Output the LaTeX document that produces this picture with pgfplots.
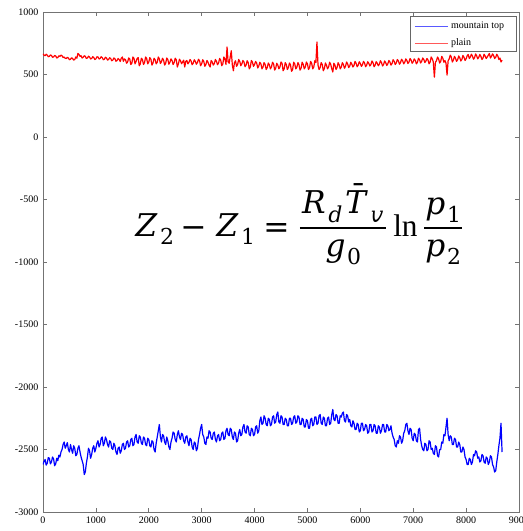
\documentclass[border=0pt]{standalone}
\usepackage{amsmath}
\usepackage{fontspec}
\usepackage{unicode-math}
\setmainfont{Liberation Serif}
\setmathfont{DejaVu Math TeX Gyre}
\usepackage{pgfplots}
\pgfplotsset{compat=1.18}

% mountain-top series
\pgfplotstableread{
x y
0 -2620
20 -2595
40 -2580
60 -2625
80 -2610
100 -2565
120 -2570
140 -2615
160 -2600
180 -2560
200 -2575
220 -2630
240 -2615
260 -2570
280 -2590
300 -2545
320 -2560
340 -2520
360 -2500
380 -2460
400 -2440
420 -2490
440 -2470
460 -2445
480 -2500
500 -2520
520 -2460
540 -2500
560 -2530
580 -2470
600 -2490
620 -2550
640 -2540
660 -2490
680 -2470
700 -2520
720 -2560
740 -2590
760 -2620
780 -2700
800 -2680
820 -2610
840 -2560
860 -2490
880 -2510
900 -2570
920 -2540
940 -2490
960 -2470
980 -2520
1000 -2490
1020 -2450
1040 -2430
1060 -2480
1080 -2460
1100 -2410
1120 -2400
1140 -2470
1160 -2450
1180 -2400
1200 -2420
1220 -2460
1240 -2480
1260 -2430
1280 -2440
1300 -2490
1320 -2500
1340 -2450
1360 -2470
1380 -2520
1400 -2540
1420 -2490
1440 -2480
1460 -2530
1480 -2510
1500 -2460
1520 -2450
1540 -2500
1560 -2490
1580 -2440
1600 -2430
1620 -2480
1640 -2470
1660 -2420
1680 -2410
1700 -2470
1720 -2460
1740 -2400
1760 -2380
1780 -2440
1800 -2450
1820 -2390
1840 -2400
1860 -2450
1880 -2460
1900 -2400
1920 -2410
1940 -2460
1960 -2470
1980 -2410
2000 -2420
2020 -2470
2040 -2480
2060 -2430
2080 -2440
2100 -2500
2120 -2520
2140 -2450
2160 -2400
2180 -2350
2200 -2300
2220 -2400
2240 -2440
2260 -2380
2280 -2390
2300 -2440
2320 -2460
2340 -2400
2360 -2430
2380 -2480
2400 -2500
2420 -2440
2440 -2410
2460 -2360
2480 -2370
2500 -2420
2520 -2440
2540 -2380
2560 -2350
2580 -2400
2600 -2420
2620 -2370
2640 -2380
2660 -2430
2680 -2450
2700 -2400
2720 -2390
2740 -2440
2760 -2470
2780 -2410
2800 -2420
2820 -2480
2840 -2500
2860 -2440
2880 -2450
2900 -2510
2920 -2490
2940 -2420
2960 -2380
2980 -2330
3000 -2300
3020 -2380
3040 -2400
3060 -2450
3080 -2460
3100 -2400
3120 -2410
3140 -2350
3160 -2360
3180 -2410
3200 -2420
3220 -2370
3240 -2360
3260 -2420
3280 -2440
3300 -2390
3320 -2380
3340 -2430
3360 -2420
3380 -2370
3400 -2360
3420 -2420
3440 -2410
3460 -2350
3480 -2330
3500 -2380
3520 -2390
3540 -2330
3560 -2340
3580 -2400
3600 -2420
3620 -2360
3640 -2370
3660 -2440
3680 -2430
3700 -2370
3720 -2340
3740 -2390
3760 -2380
3780 -2320
3800 -2300
3820 -2360
3840 -2370
3860 -2310
3880 -2320
3900 -2380
3920 -2390
3940 -2330
3960 -2340
3980 -2390
4000 -2380
4020 -2320
4040 -2310
4060 -2370
4080 -2350
4100 -2270
4120 -2240
4140 -2300
4160 -2290
4180 -2230
4200 -2250
4220 -2300
4240 -2310
4260 -2250
4280 -2260
4300 -2310
4320 -2300
4340 -2240
4360 -2230
4380 -2290
4400 -2280
4420 -2220
4440 -2200
4460 -2280
4480 -2290
4500 -2230
4520 -2240
4540 -2300
4560 -2300
4580 -2250
4600 -2260
4620 -2310
4640 -2310
4660 -2250
4680 -2250
4700 -2300
4720 -2290
4740 -2240
4760 -2230
4780 -2290
4800 -2280
4820 -2230
4840 -2240
4860 -2300
4880 -2300
4900 -2250
4920 -2260
4940 -2320
4960 -2320
4980 -2260
5000 -2270
5020 -2330
5040 -2330
5060 -2260
5080 -2250
5100 -2310
5120 -2300
5140 -2240
5160 -2240
5180 -2300
5200 -2290
5220 -2230
5240 -2220
5260 -2290
5280 -2300
5300 -2240
5320 -2250
5340 -2310
5360 -2310
5380 -2250
5400 -2240
5420 -2300
5440 -2290
5460 -2220
5480 -2180
5500 -2260
5520 -2270
5540 -2220
5560 -2230
5580 -2290
5600 -2290
5620 -2230
5640 -2240
5660 -2210
5680 -2200
5700 -2270
5720 -2280
5740 -2220
5760 -2230
5780 -2280
5800 -2260
5820 -2310
5840 -2320
5860 -2270
5880 -2290
5900 -2340
5920 -2340
5940 -2290
5960 -2300
5980 -2360
6000 -2350
6020 -2290
6040 -2290
6060 -2350
6080 -2340
6100 -2300
6120 -2310
6140 -2370
6160 -2360
6180 -2300
6200 -2300
6220 -2360
6240 -2350
6260 -2300
6280 -2310
6300 -2370
6320 -2370
6340 -2310
6360 -2320
6380 -2370
6400 -2350
6420 -2300
6440 -2300
6460 -2360
6480 -2360
6500 -2300
6520 -2310
6540 -2350
6560 -2340
6580 -2310
6600 -2370
6620 -2400
6640 -2420
6660 -2470
6680 -2480
6700 -2430
6720 -2450
6740 -2390
6760 -2400
6780 -2450
6800 -2430
6820 -2370
6840 -2350
6860 -2300
6880 -2290
6900 -2350
6920 -2380
6940 -2330
6960 -2340
6980 -2410
7000 -2430
7020 -2370
7040 -2380
7060 -2430
7080 -2440
7100 -2340
7120 -2330
7140 -2420
7160 -2470
7180 -2500
7200 -2510
7220 -2450
7240 -2460
7260 -2510
7280 -2500
7300 -2430
7320 -2440
7340 -2500
7360 -2490
7380 -2530
7400 -2540
7420 -2470
7440 -2480
7460 -2550
7480 -2560
7500 -2500
7520 -2500
7540 -2440
7560 -2450
7580 -2380
7600 -2390
7620 -2320
7640 -2250
7660 -2380
7680 -2430
7700 -2390
7720 -2400
7740 -2460
7760 -2460
7780 -2410
7800 -2420
7820 -2480
7840 -2480
7860 -2440
7880 -2460
7900 -2520
7920 -2520
7940 -2480
7960 -2500
7980 -2560
8000 -2580
8020 -2620
8040 -2620
8060 -2570
8080 -2580
8100 -2620
8120 -2600
8140 -2540
8160 -2550
8180 -2510
8200 -2520
8220 -2570
8240 -2560
8260 -2600
8280 -2590
8300 -2540
8320 -2550
8340 -2600
8360 -2610
8380 -2560
8400 -2570
8420 -2620
8440 -2600
8460 -2550
8480 -2560
8500 -2620
8520 -2640
8540 -2680
8560 -2670
8580 -2600
8600 -2540
8620 -2470
8640 -2410
8660 -2290
8680 -2520
}\mountain

% plain series
\pgfplotstableread{
x y
0 665
20 655
40 650
60 662
80 655
100 642
120 645
140 656
160 652
180 638
200 640
220 652
240 648
260 632
280 636
300 650
320 645
340 655
360 650
380 636
400 640
420 630
440 628
460 638
480 632
500 618
520 622
540 634
560 628
580 615
600 620
620 640
640 630
660 668
680 660
700 645
720 650
740 632
760 638
780 650
800 645
820 628
840 632
860 646
880 640
900 624
920 628
940 642
960 636
980 620
1000 625
1020 642
1040 640
1060 624
1080 628
1100 642
1120 635
1140 618
1160 622
1180 638
1200 632
1220 615
1240 620
1260 634
1280 628
1300 610
1320 615
1340 632
1360 626
1380 606
1400 612
1420 628
1440 620
1460 604
1480 630
1500 640
1520 605
1540 625
1560 618
1580 590
1600 600
1620 632
1640 625
1660 580
1680 590
1700 640
1720 630
1740 585
1760 605
1780 628
1800 635
1820 570
1840 585
1860 630
1880 620
1900 580
1920 595
1940 640
1960 628
1980 585
2000 600
2020 635
2040 622
2060 575
2080 592
2100 630
2120 618
2140 585
2160 598
2180 640
2200 625
2220 588
2240 602
2260 630
2280 615
2300 575
2320 590
2340 632
2360 620
2380 582
2400 598
2420 625
2440 612
2460 580
2480 596
2500 630
2520 618
2540 560
2560 585
2580 622
2600 610
2620 586
2640 600
2660 615
2680 560
2700 605
2720 612
2740 585
2760 598
2780 620
2800 608
2820 578
2840 590
2860 618
2880 605
2900 582
2920 595
2940 622
2960 610
2980 570
3000 585
3020 618
3040 605
3060 565
3080 580
3100 612
3120 598
3140 575
3160 560
3180 612
3200 600
3220 575
3240 588
3260 620
3280 605
3300 578
3320 592
3340 628
3360 615
3380 570
3400 585
3420 640
3440 625
3460 580
3480 720
3500 600
3520 590
3540 640
3560 690
3580 575
3600 530
3620 595
3640 610
3660 565
3680 580
3700 620
3720 605
3740 570
3760 585
3780 612
3800 600
3820 562
3840 575
3860 610
3880 595
3900 545
3920 560
3940 612
3960 600
3980 565
4000 580
4020 605
4040 592
4060 552
4080 568
4100 598
4120 585
4140 545
4160 560
4180 595
4200 580
4220 540
4240 555
4260 592
4280 578
4300 545
4320 560
4340 598
4360 585
4380 535
4400 550
4420 590
4440 575
4460 545
4480 560
4500 600
4520 590
4540 530
4560 545
4580 595
4600 580
4620 540
4640 555
4660 592
4680 575
4700 525
4720 540
4740 598
4760 585
4780 545
4800 558
4820 595
4840 578
4860 535
4880 550
4900 598
4920 582
4940 545
4960 560
4980 600
5000 585
5020 540
5040 555
5060 605
5080 590
5100 545
5120 560
5140 610
5160 595
5180 760
5200 575
5220 540
5240 555
5260 595
5280 580
5300 530
5320 548
5340 592
5360 575
5380 545
5400 560
5420 598
5440 582
5460 545
5480 520
5500 590
5520 575
5540 540
5560 555
5580 595
5600 578
5620 545
5640 560
5660 595
5680 580
5700 550
5720 565
5740 600
5760 585
5780 555
5800 568
5820 598
5840 582
5860 560
5880 572
5900 605
5920 590
5940 562
5960 575
5980 602
6000 588
6020 565
6040 578
6060 605
6080 592
6100 562
6120 575
6140 602
6160 590
6180 568
6200 580
6220 608
6240 595
6260 562
6280 575
6300 602
6320 590
6340 570
6360 582
6380 610
6400 596
6420 568
6440 580
6460 608
6480 595
6500 572
6520 585
6540 612
6560 600
6580 575
6600 588
6620 618
6640 605
6660 580
6680 592
6700 620
6720 608
6740 582
6760 595
6780 622
6800 610
6820 585
6840 598
6860 625
6880 612
6900 588
6920 600
6940 628
6960 615
6980 590
7000 602
7020 625
7040 612
7060 585
7080 598
7100 630
7120 618
7140 592
7160 605
7180 632
7200 620
7220 595
7240 608
7260 628
7280 615
7300 585
7320 600
7340 640
7360 625
7380 600
7400 478
7420 598
7440 610
7460 640
7480 625
7500 592
7520 605
7540 645
7560 630
7580 598
7600 612
7620 590
7640 495
7660 610
7680 625
7700 655
7720 640
7740 600
7760 615
7780 645
7800 630
7820 605
7840 618
7860 648
7880 635
7900 608
7920 620
7940 652
7960 638
7980 612
8000 625
8020 650
8040 660
8060 628
8080 640
8100 662
8120 648
8140 622
8160 635
8180 664
8200 650
8220 625
8240 638
8260 660
8280 645
8300 620
8320 632
8340 662
8360 648
8380 628
8400 640
8420 655
8440 668
8460 632
8480 645
8500 665
8520 652
8540 628
8560 638
8580 662
8600 648
8620 620
8640 632
8660 600
8680 615
}\plain

\begin{document}
\begin{tikzpicture}
\begin{axis}[
  name=main,
  scale only axis,
  width=357pt, height=375pt,
  xmin=0, xmax=9000, ymin=-3000, ymax=1000,
  xtick={0,1000,...,9000},
  ytick={-3000,-2500,...,1000},
  scaled ticks=false,
  /pgf/number format/1000 sep={},
  /pgf/number format/assume math mode=true,
  tick align=inside,
  major tick length=3pt,
  axis line style={black!55, line width=0.6pt},
  tick style={black!55, line width=0.5pt},
  ticklabel style={font=\fontsize{7.5}{9}\selectfont},
  legend style={at={(0.777,0.989)}, anchor=north west,
    draw=none, fill=none, font=\fontsize{7.5}{8.5}\selectfont,
    inner sep=1pt, row sep=2.5pt, cells={anchor=west}},
  legend image code/.code={\draw[#1] (0cm,0cm) -- (0.87cm,0cm);},
]
% legend frame
\draw[black!60, line width=0.5pt, fill=white]
  (rel axis cs:0.771,0.921) rectangle (rel axis cs:0.994,0.992);
\addplot[blue, line width=0.9pt, line join=round, forget plot]
  table[x=x, y=y] {\mountain};
\addplot[red, line width=0.9pt, line join=round, forget plot]
  table[x=x, y=y] {\plain};
\addlegendimage{color=blue!65, line width=0.8pt}
\addlegendentry{mountain top}
\addlegendimage{color=red!65, line width=0.8pt}
\addlegendentry{plain}
\node at (axis cs:4820,-700) {\fontsize{23.5}{28}\selectfont
  $Z_2 - Z_1 = \dfrac{R_d\bar{T}_v}{g_0}\ln\dfrac{p_1}{p_2}$};
\end{axis}
\pgfresetboundingbox
\path[use as bounding box] ([xshift=-32.25pt, yshift=-14.25pt]main.south west)
  rectangle ([xshift=3pt, yshift=9pt]main.north east);
\end{tikzpicture}
\end{document}
